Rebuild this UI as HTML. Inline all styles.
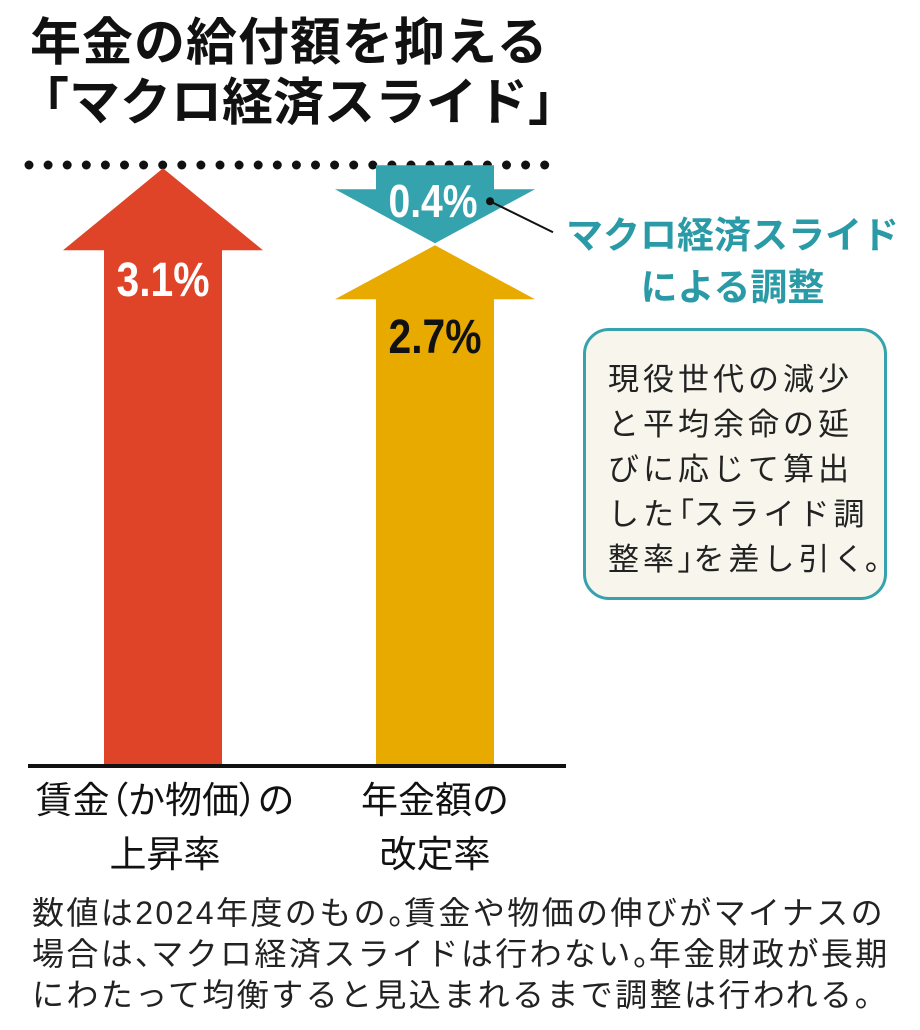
<!DOCTYPE html>
<html><head><meta charset="utf-8">
<style>
html,body{margin:0;padding:0;background:#fff;}
body{width:920px;height:1030px;overflow:hidden;position:relative;font-family:"Liberation Sans","Noto Sans CJK JP",sans-serif;}
.t{position:absolute;white-space:nowrap;}
.p{font-feature-settings:"palt";letter-spacing:0;}
</style></head>
<body>
<div class="t" style="left:30px;top:12px;font-size:51px;font-weight:bold;line-height:62px;color:#111;letter-spacing:1px;">年金の給付額を抑える</div>
<div class="t" style="left:18px;top:72px;font-size:51px;font-weight:bold;line-height:62px;color:#111;">「マクロ経済スライド」</div>

<svg id="chart" width="920" height="1030" style="position:absolute;left:0;top:0;">
<g id="dots"></g>
<g id="marks"></g>
</svg>

<div class="t" style="left:560px;top:210px;width:345px;text-align:center;font-size:37px;font-weight:bold;line-height:52px;color:#2a9ba6;">マクロ経済スライド<br>による調整</div>

<div style="position:absolute;left:583px;top:328px;width:298px;height:266px;border:3px solid #35a3ad;border-radius:26px;background:#f7f5ec;box-sizing:content-box;">
<div style="position:absolute;left:22px;top:26px;font-size:31px;line-height:45px;letter-spacing:4px;color:#222;white-space:nowrap;">現役世代の減少<br>と平均余命の延<br>びに応じて算出<br>した<span class="p">「</span>スライド調<br>整率<span class="p">」</span>を差し引く<span class="p" style="margin-left:-4px">。</span></div>
</div>

<div class="t" style="left:15px;top:774px;width:300px;text-align:center;font-size:37px;line-height:54px;color:#111;">賃金<span class="p">（</span>か物価<span class="p">）</span>の<br>上昇率</div>
<div class="t" style="left:295px;top:774px;width:280px;text-align:center;font-size:37px;line-height:54px;color:#111;">年金額の<br>改定率</div>

<div class="t" style="left:32px;top:893px;font-size:32px;line-height:41px;letter-spacing:2.4px;color:#222;">数値は2024年度のもの<span class="p">。</span>賃金や物価の伸びがマイナスの<br>場合は<span class="p">、</span>マクロ経済スライドは行わない<span class="p">。</span>年金財政が長期<br>にわたって均衡すると見込まれるまで調整は行われる<span class="p">。</span></div>

<script>
const categories = ['賃金(か物価)の上昇率', '年金額の改定率'];
const riseValues = [3.1, 2.7];
const adjustValues = [0, 0.4];
const valueLabels = ['3.1%', '2.7%'];
const adjustLabels = ['', '0.4%'];

const NS = 'http://www.w3.org/2000/svg';
const baseY = 765, pxPer = 192.5;
const y = v => baseY - v * pxPer;
const xCenter = i => [163, 435][i];
const colors = ['#e04428', '#e9aa00'];
const headH = [82, 54];
const textColors = ['#fff', '#111'];
const marks = document.getElementById('marks');
const dots = document.getElementById('dots');

for (let x = 29; x <= 555; x += 19.1) {
  const c = document.createElementNS(NS, 'circle');
  
  
  c.setAttribute('cx', x); c.setAttribute('cy', 165); c.setAttribute('r', 4.5); c.setAttribute('fill', '#111');
  dots.appendChild(c);
}

function poly(pts, fill, name) {
  const p = document.createElementNS(NS, 'polygon');
  
  
  p.setAttribute('points', pts.map(a => a.join(',')).join(' '));
  p.setAttribute('fill', fill);
  marks.appendChild(p);
}
function txt(x, yy, s, size, fill, name) {
  const t = document.createElementNS(NS, 'text');
  
  
  t.setAttribute('x', x); t.setAttribute('y', yy);
  t.setAttribute('text-anchor', 'middle');
  t.setAttribute('font-size', size);
  t.setAttribute('font-weight', 'bold');
  t.setAttribute('font-family', '"Liberation Sans Narrow","Liberation Sans",sans-serif');
  t.setAttribute('fill', fill);
  t.setAttribute('transform', `translate(${x},${yy}) scale(0.85,1) translate(${-x},${-yy})`);
  t.textContent = s;
  marks.appendChild(t);
}

categories.forEach((c, i) => {
  const cx = xCenter(i), hw = 100, sw = 59;
  const tip = y(riseValues[i]), hb = tip + headH[i];
  poly([[cx, tip], [cx + hw, hb], [cx + sw, hb], [cx + sw, baseY], [cx - sw, baseY], [cx - sw, hb], [cx - hw, hb]], colors[i], 'rise-arrow-' + i);
  txt(cx, hb + (i === 0 ? 46 : 54), valueLabels[i], 48, textColors[i], 'rise-value-label-' + i);
  if (adjustValues[i] > 0) {
    const top = y(riseValues[i] + adjustValues[i]) - 3;
    const atip = y(riseValues[i]) - 2;
    const ab = atip - 54;
    poly([[cx - sw, top], [cx + sw, top], [cx + sw, ab], [cx + hw, ab], [cx, atip], [cx - hw, ab], [cx - sw, ab]], '#35a3ad', 'adjustment-arrow');
    txt(cx - 2, top + 52, adjustLabels[i], 46, '#fff', 'adjustment-value-label');
    const l = document.createElementNS(NS, 'line');
    
    
    l.setAttribute('x1', cx + 55); l.setAttribute('y1', top + 36); l.setAttribute('x2', 553); l.setAttribute('y2', top + 67);
    l.setAttribute('stroke', '#111'); l.setAttribute('stroke-width', 2);
    marks.appendChild(l);
    const d = document.createElementNS(NS, 'circle');
    
    
    d.setAttribute('cx', cx + 55); d.setAttribute('cy', top + 36); d.setAttribute('r', 4); d.setAttribute('fill', '#111');
    marks.appendChild(d);
  }
});

const base = document.createElementNS(NS, 'rect');


base.setAttribute('x', 28); base.setAttribute('y', baseY - 1); base.setAttribute('width', 538); base.setAttribute('height', 4); base.setAttribute('fill', '#111');
marks.appendChild(base);
</script>
</body></html>
